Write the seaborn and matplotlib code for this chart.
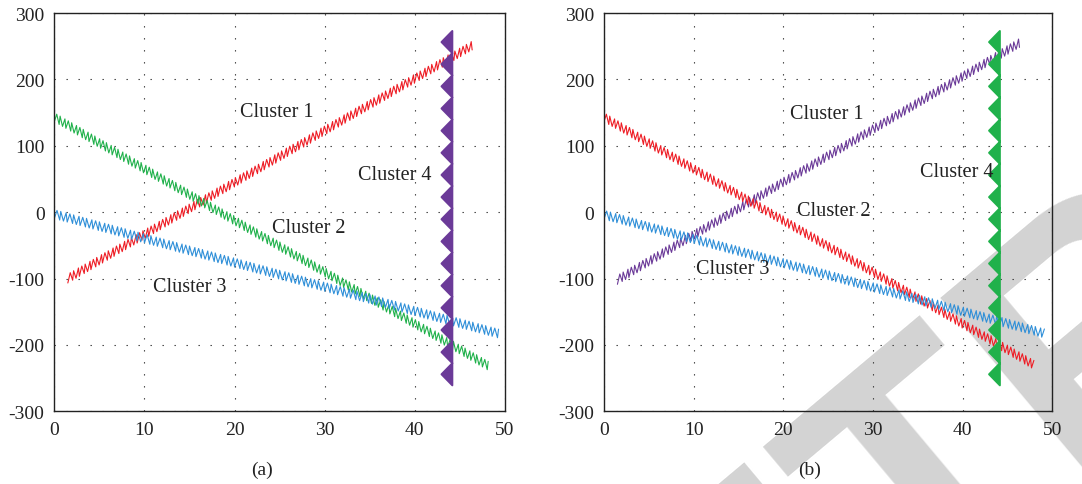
import numpy as np
import pandas as pd
import seaborn as sns
import matplotlib
matplotlib.use("Agg")
import matplotlib.pyplot as plt
from matplotlib.patheffects import AbstractPathEffect
from matplotlib.path import Path
from matplotlib.transforms import IdentityTransform

# values (cluster line end points)
a_c1_x = [1.5, 46.6]
a_c1_y = [-100, 253]
a_c2_x = [0.0, 48.2]
a_c2_y = [143, -232]
a_c3_x = [0.0, 49.3]
a_c3_y = [-3, -183]
a_c4_x = [44.16, 44.16]
a_c4_y = [273, -261]

b_c1_x = [1.5, 46.6]
b_c1_y = [-102, 257]
b_c2_x = [0.0, 48.2]
b_c2_y = [143, -232]
b_c3_x = [0.0, 49.2]
b_c3_y = [-4, -183]
b_c4_x = [44.16, 44.16]
b_c4_y = [273, -261]

labels = ["Cluster 1", "Cluster 2", "Cluster 3", "Cluster 4"]
a_label_x = [24.7, 28.2, 15.0, 37.8]
a_label_y = [151, -23, -112, 57]
b_label_x = [24.8, 25.6, 14.4, 39.3]
b_label_y = [148, 3, -85, 61]

xticks = [0, 10, 20, 30, 40, 50]
yticks = [-300, -200, -100, 0, 100, 200, 300]

RED = "#ee1d25"
GREEN = "#20b14b"
BLUE = "#2f8fd8"
PURPLE = "#6b3a98"


class Zigzag(AbstractPathEffect):
    """draws a line as a small vertical zigzag"""

    def __init__(self, steps=(2.0, 2.0, 0.8), amp=3.2):
        super().__init__()
        self.steps = steps
        self.amp = amp

    def draw_path(self, renderer, gc, tpath, affine, rgbFace=None):
        v = affine.transform(tpath.vertices)
        steps = [renderer.points_to_pixels(s) for s in self.steps]
        amp = renderer.points_to_pixels(self.amp)
        pts = []
        k = 0
        sign = -1
        for p0, p1 in zip(v[:-1], v[1:]):
            d = p1 - p0
            L = np.hypot(*d)
            u = d / L
            s = 0.0
            while s <= L:
                p = p0 + u * s
                pts.append((p[0], p[1] + sign * amp))
                s += steps[k % len(steps)]
                k += 1
                sign = -sign
        renderer.draw_path(gc, Path(np.array(pts)), IdentityTransform())


class Saw(AbstractPathEffect):
    """filled triangles on the left of a line"""

    def __init__(self, period=16.0, depth=7.8):
        super().__init__()
        self.period = period
        self.depth = depth

    def draw_path(self, renderer, gc, tpath, affine, rgbFace=None):
        v = affine.transform(tpath.vertices)
        p0, p1 = v[0], v[-1]
        d = p1 - p0
        L = np.hypot(*d)
        u = d / L
        n = np.array([u[1], -u[0]])
        if n[0] > 0:
            n = -n
        per = renderer.points_to_pixels(self.period)
        cnt = max(1, int(round(L / per)))
        per = L / cnt
        dep = renderer.points_to_pixels(self.depth)
        pts = [p0]
        for i in range(cnt):
            pts.append(p0 + u * (i + 0.5) * per + n * dep)
            pts.append(p0 + u * (i + 1) * per)
        pts.append(p0)
        renderer.draw_path(gc, Path(np.array(pts), closed=True), IdentityTransform(),
                           rgbFace=gc.get_rgb())


sns.set_style("white")
plt.rcParams["font.family"] = ["Liberation Serif", "DejaVu Serif"]
plt.rcParams["axes.unicode_minus"] = False

fig = plt.figure(figsize=(10.82, 4.85), dpi=100)

# faint watermark behind the panels
fig.text(1.257, 0.509, "RETRACTED", rotation=40, rotation_mode="anchor",
         fontsize=250, color="#d3d3d3", fontweight="bold", family="Liberation Sans",
         ha="center", va="baseline", zorder=-10)

ax_a = fig.add_axes([0.0502, 0.150, 0.4165, 0.821])
ax_b = fig.add_axes([0.5582, 0.150, 0.4143, 0.821])

panels = [
    (ax_a, "(a)", 0.2418,
     [(a_c1_x, a_c1_y, RED), (a_c2_x, a_c2_y, GREEN), (a_c3_x, a_c3_y, BLUE)],
     (a_c4_x, a_c4_y, PURPLE), a_label_x, a_label_y),
    (ax_b, "(b)", 0.748,
     [(b_c1_x, b_c1_y, PURPLE), (b_c2_x, b_c2_y, RED), (b_c3_x, b_c3_y, BLUE)],
     (b_c4_x, b_c4_y, GREEN), b_label_x, b_label_y),
]

for ax, tag, tag_x, lines, wall, lx, ly in panels:
    ax.patch.set_alpha(0)
    for xs, ys, col in lines:
        df = pd.DataFrame({"x": xs, "y": ys})
        sns.lineplot(data=df, x="x", y="y", ax=ax, color=col, linewidth=0.8,
                     estimator=None, sort=False, path_effects=[Zigzag()])
    df = pd.DataFrame({"x": wall[0], "y": wall[1]})
    sns.lineplot(data=df, x="x", y="y", ax=ax, color=wall[2], linewidth=1.4,
                 estimator=None, sort=False, path_effects=[Saw()])
    for t, x, y in zip(labels, lx, ly):
        ax.text(x, y, t, fontsize=14.5, ha="center", va="center", color="#222222")

    ax.set_xlim(0, 50)
    ax.set_ylim(-300, 300)
    ax.set_xticks(xticks)
    ax.set_yticks(yticks)
    ax.set_xlabel("")
    ax.set_ylabel("")
    ax.grid(True, color="#333333", linewidth=0.8, linestyle=(0, (1.2, 9.6)))
    ax.tick_params(length=0, labelsize=14, colors="#222222", pad=7)
    for sp in ax.spines.values():
        sp.set_visible(True)
        sp.set_color("#222222")
        sp.set_linewidth(1.0)
    fig.text(tag_x, 0.031, tag, fontsize=14, ha="center", va="center", color="#222222")

fig.savefig("out.png", dpi=100)
